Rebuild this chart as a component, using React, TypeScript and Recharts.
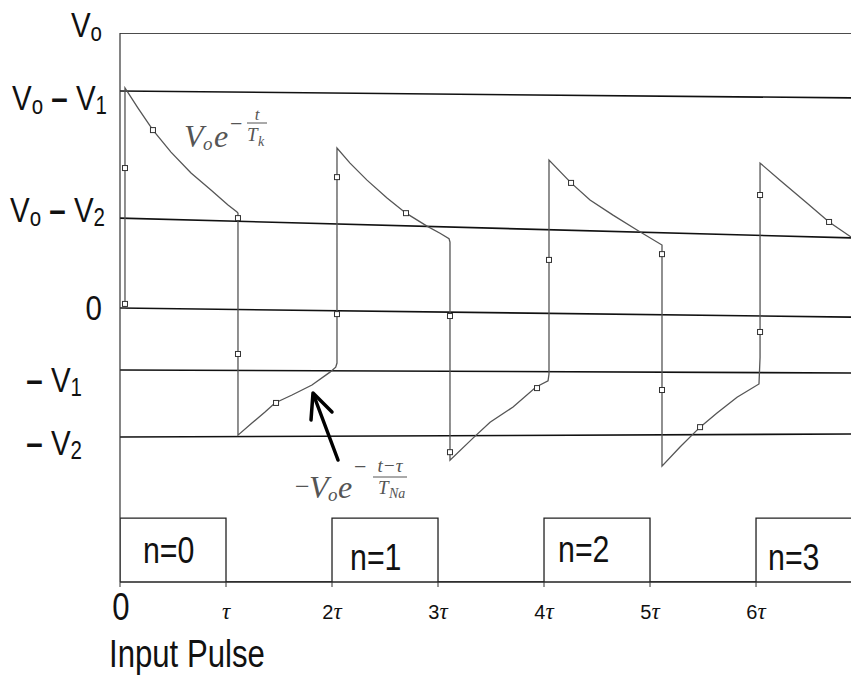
import React from 'react';
import { ComposedChart, Line, Scatter, XAxis, YAxis, LabelList } from 'recharts';

const SANS = "'Liberation Sans', Arial, sans-serif";
const SERIF = "'Liberation Serif', 'DejaVu Serif', serif";
const SQUEEZE = 0.82; // the source uses a narrow sans face

// time in units of tau, voltage in units of V_o
const T_END = 6.896;
const V_BOTTOM = -0.996;

// membrane voltage trace
const waveT = [0, 0.047, 0.047, 0.17, 0.311, 0.481, 0.67, 0.858, 1.019, 1.104, 1.113, 1.113, 1.245, 1.368, 1.462, 1.623, 1.811, 1.981, 2.035, 2.047, 2.047, 2.17, 2.33, 2.519, 2.698, 2.896, 3.019, 3.104, 3.113, 3.113, 3.33, 3.491, 3.708, 3.925, 4.038, 4.047, 4.047, 4.255, 4.434, 4.651, 4.877, 5.113, 5.113, 5.283, 5.472, 5.632, 5.821, 6.028, 6.038, 6.038, 6.226, 6.48, 6.689, 6.896];
const waveV = [0, 0, 0.8, 0.727, 0.647, 0.567, 0.491, 0.429, 0.375, 0.349, 0.345, -0.462, -0.418, -0.378, -0.345, -0.316, -0.28, -0.233, -0.215, -0.2, 0.582, 0.527, 0.465, 0.4, 0.345, 0.298, 0.272, 0.252, 0.24, -0.553, -0.473, -0.415, -0.36, -0.287, -0.265, -0.24, 0.538, 0.455, 0.393, 0.338, 0.284, 0.229, -0.575, -0.505, -0.433, -0.382, -0.324, -0.276, -0.18, 0.527, 0.465, 0.382, 0.313, 0.258];

// sample markers on the trace
const markT = [0.047, 0.047, 0.311, 1.113, 1.113, 1.472, 2.047, 2.047, 2.698, 3.113, 3.113, 3.934, 4.047, 4.255, 5.113, 5.113, 5.472, 6.038, 6.038, 6.689];
const markV = [0.015, 0.509, 0.647, 0.327, -0.167, -0.345, -0.022, 0.476, 0.345, -0.029, -0.524, -0.291, 0.175, 0.455, 0.196, -0.298, -0.433, -0.087, 0.411, 0.313];

// level lines (start value, end value)
const levelStart = [1, 0.789, 0.327, 0, -0.225, -0.469];
const levelEnd = [1, 0.764, 0.255, -0.033, -0.236, -0.458];
const levelLabels = ['Vo', 'Vo – V1', 'Vo – V2', '0', '– V1', '– V2'];

// input pulse train
const pulseLow = -0.996;
const pulseHigh = -0.764;
const pulseT = [0, 0, 1, 1, 2, 2, 3, 3, 4, 4, 5, 5, 6, 6, 6.896];
const pulseOn = [0, 1, 1, 0, 0, 1, 1, 0, 0, 1, 1, 0, 0, 1, 1];
const pulseNames = ['n=0', 'n=1', 'n=2', 'n=3'];

const xTicks = [0, 1, 2, 3, 4, 5, 6];
const xLabels = ['0', 'τ', '2τ', '3τ', '4τ', '5τ', '6τ'];

const waveData = waveT.map((t, i) => ({ t, v: waveV[i] }));
const markData = markT.map((t, i) => ({ t, v: markV[i] }));
const levelData = levelStart.map((a, i) => [{ t: 0, v: a }, { t: T_END, v: levelEnd[i] }]);
const pulseData = pulseT.map((t, i) => ({ t, v: pulseOn[i] ? pulseHigh : pulseLow }));

// hand placement of the tick texts
const yLabelPos = [
  { x: 102, dy: 4 },
  { x: 107, dy: 19 },
  { x: 105, dy: 4 },
  { x: 102, dy: 12 },
  { x: 82, dy: 22 },
  { x: 82, dy: 18 },
];
const pulseLabelPos = [
  { dx: 23, dy: 45 },
  { dx: 18, dy: 52 },
  { dx: 14, dy: 44 },
  { dx: 12, dy: 52 },
];
const pulseCorner = [1, 5, 9, 13];

function splitLabel(s: string) {
  const parts: { text: string; sub: boolean; bold: boolean }[] = [];
  for (let i = 0; i < s.length; i++) {
    const sub = i > 0 && s[i - 1] === 'V';
    const bold = s[i] === '–';
    const last = parts[parts.length - 1];
    if (last && !sub && !last.sub && !bold && !last.bold) last.text += s[i];
    else parts.push({ text: s[i], sub, bold });
  }
  return parts;
}

const YTick = (props: any) => {
  const i = levelStart.indexOf(props.payload.value);
  if (i < 0) return null;
  const pos = yLabelPos[i];
  let shift = 0;
  return (
    <text
      transform={`translate(${pos.x},${props.y + pos.dy}) scale(${SQUEEZE},1)`}
      x={0}
      y={0}
      textAnchor="end"
      fontFamily={SANS}
      fontSize={36}
      fill="#111"
    >
      {splitLabel(levelLabels[i]).map((p, k) => {
        const target = p.sub ? 4 : 0;
        const dy = target - shift;
        shift = target;
        return (
          <tspan key={k} dy={dy} fontSize={p.sub ? 25 : 36} fontWeight={p.bold ? 700 : 400}>
            {p.text}
          </tspan>
        );
      })}
    </text>
  );
};

const XTick = (props: any) => {
  const { x, y, payload } = props;
  const lab = xLabels[xTicks.indexOf(payload.value)];
  if (lab === '0') {
    return (
      <text transform={`translate(${x + 1},${y + 33}) scale(${SQUEEZE},1)`} textAnchor="middle" fontFamily={SANS} fontSize={38} fill="#111">
        0
      </text>
    );
  }
  return (
    <text x={x} y={y + 32} textAnchor="middle" fill="#111">
      <tspan fontFamily={SANS} fontSize={20}>{lab.slice(0, -1)}</tspan>
      <tspan fontFamily={SERIF} fontStyle="italic" fontSize={23}>τ</tspan>
    </text>
  );
};

const PulseLabel = (props: any) => {
  const k = pulseCorner.indexOf(props.index);
  if (k < 0) return null;
  const pos = pulseLabelPos[k];
  return (
    <text
      transform={`translate(${props.x + pos.dx},${props.y + pos.dy}) scale(${SQUEEZE},1)`}
      fontFamily={SANS}
      fontSize={37}
      fill="#111"
    >
      {pulseNames[k]}
    </text>
  );
};

const Square = (props: any) => (
  <rect x={props.cx - 2.5} y={props.cy - 2.5} width={5} height={5} fill="#fff" stroke="#333" strokeWidth={1} />
);

export default function App() {
  return (
    <div style={{ position: 'absolute', left: 0, top: 0, width: 851, height: 678, background: '#fff' }}>
      <ComposedChart width={851} height={678} margin={{ top: 33, right: 0, bottom: 0, left: 0 }}>
        <XAxis
          dataKey="t"
          type="number"
          domain={[0, T_END]}
          allowDataOverflow
          ticks={xTicks}
          tick={<XTick />}
          tickSize={5}
          tickMargin={0}
          height={96}
          axisLine={{ stroke: '#222', strokeWidth: 1.5 }}
          tickLine={{ stroke: '#333' }}
          interval={0}
        />
        <YAxis
          type="number"
          domain={[V_BOTTOM, 1]}
          allowDataOverflow
          ticks={levelStart}
          tick={<YTick />}
          tickLine={false}
          width={120}
          axisLine={{ stroke: '#333', strokeWidth: 1.2 }}
          interval={0}
        />
        {levelData.map((d, i) => (
          <Line
            key={i}
            data={d}
            dataKey="v"
            type="linear"
            stroke="#111"
            strokeWidth={i === 0 ? 1.3 : 1.6}
            dot={false}
            activeDot={false}
            isAnimationActive={false}
          />
        ))}
        <Line
          data={pulseData}
          dataKey="v"
          type="linear"
          stroke="#222"
          strokeWidth={1.3}
          dot={false}
          activeDot={false}
          isAnimationActive={false}
        >
          <LabelList content={<PulseLabel />} />
        </Line>
        <Line
          data={waveData}
          dataKey="v"
          type="linear"
          stroke="#555"
          strokeWidth={1.3}
          dot={false}
          activeDot={false}
          isAnimationActive={false}
        />
        <Scatter data={markData} dataKey="v" shape={<Square />} isAnimationActive={false} />
      </ComposedChart>
      <svg width={851} height={678} style={{ position: 'absolute', left: 0, top: 0, pointerEvents: 'none' }}>
        <g fill="#555" fontFamily={SERIF} fontStyle="italic">
          <text x={184} y={147} fontSize={32}>V</text>
          <text x={203} y={150} fontSize={19}>o</text>
          <text x={214} y={147} fontSize={32}>e</text>
          <text x={230} y={131} fontSize={22} fontStyle="normal">−</text>
          <text x={257} y={120} fontSize={17} textAnchor="middle">t</text>
          <line x1={247} x2={267} y1={123} y2={123} stroke="#555" strokeWidth={1} />
          <text x={247} y={141} fontSize={19}>T</text>
          <text x={258} y={146} fontSize={14}>k</text>

          <text x={295} y={495} fontSize={26} fontStyle="normal">−</text>
          <text x={309} y={498} fontSize={32}>V</text>
          <text x={328} y={501} fontSize={19}>o</text>
          <text x={338} y={498} fontSize={32}>e</text>
          <text x={354} y={474} fontSize={22} fontStyle="normal">−</text>
          <text x={390} y={472} fontSize={19} textAnchor="middle">t−τ</text>
          <line x1={373} x2={407} y1={477} y2={477} stroke="#555" strokeWidth={1} />
          <text x={378} y={494} fontSize={19}>T</text>
          <text x={389} y={498} fontSize={14}>Na</text>
        </g>
        <g stroke="#000" strokeWidth={3.5} fill="none" strokeLinecap="round" strokeLinejoin="round">
          <line x1={338} y1={460} x2={314} y2={396} />
          <polyline points="311,420 313,393 332,412" />
        </g>
        <text transform={`translate(109,667) scale(${SQUEEZE},1)`} fontFamily={SANS} fontSize={38} fill="#111">
          Input Pulse
        </text>
      </svg>
    </div>
  );
}
